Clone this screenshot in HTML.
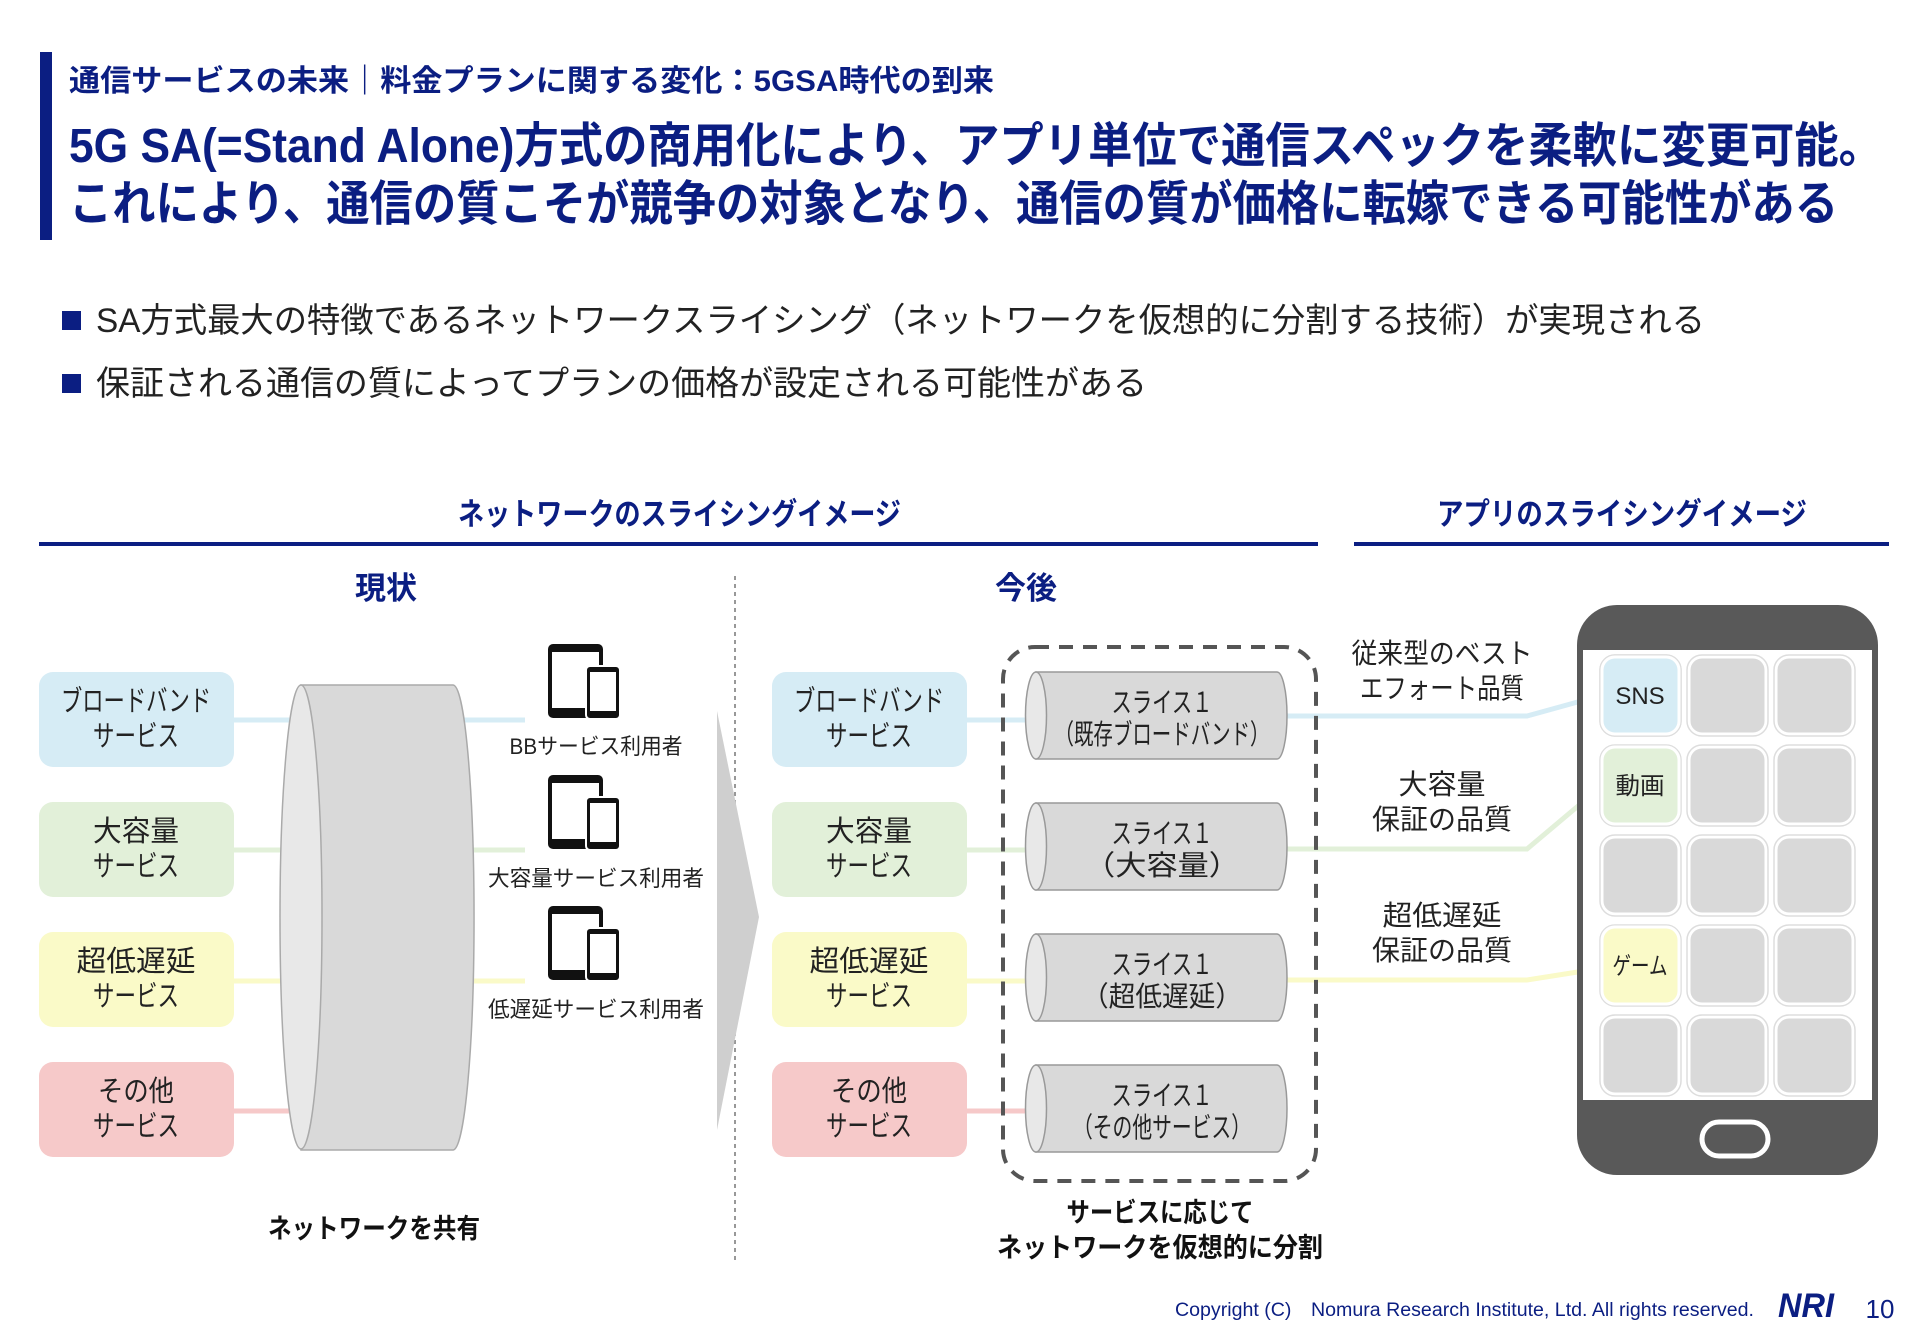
<!DOCTYPE html>
<html><head><meta charset="utf-8"><style>
html,body{margin:0;padding:0;background:#fff;}
svg{display:block;}
text{font-family:"Liberation Sans","Noto Sans CJK JP",sans-serif;}
.b{font-weight:bold;}
</style></head><body>
<svg width="1920" height="1329" viewBox="0 0 1920 1329" xmlns="http://www.w3.org/2000/svg">
<rect x="40" y="52" width="12" height="188" fill="#0b1e82"/>
<text x="69" y="91" class="b" font-size="30" fill="#0b1e82" textLength="925" lengthAdjust="spacingAndGlyphs">通信サービスの未来｜料金プランに関する変化：5GSA時代の到来</text>
<text x="69" y="162" class="b" font-size="48" fill="#0b1e82" textLength="1814" lengthAdjust="spacingAndGlyphs">5G SA(=Stand Alone)方式の商用化により、アプリ単位で通信スペックを柔軟に変更可能。</text>
<text x="69" y="220" class="b" font-size="48" fill="#0b1e82" textLength="1769" lengthAdjust="spacingAndGlyphs">これにより、通信の質こそが競争の対象となり、通信の質が価格に転嫁できる可能性がある</text>
<rect x="62" y="311" width="19" height="19" fill="#0b1e82"/>
<text x="96" y="332" font-size="34" fill="#222" textLength="1609" lengthAdjust="spacingAndGlyphs">SA方式最大の特徴であるネットワークスライシング（ネットワークを仮想的に分割する技術）が実現される</text>
<rect x="62" y="374" width="19" height="19" fill="#0b1e82"/>
<text x="96" y="395" font-size="34" fill="#222" textLength="1051" lengthAdjust="spacingAndGlyphs">保証される通信の質によってプランの価格が設定される可能性がある</text>
<text x="458" y="525" class="b" font-size="31" fill="#0b1e82" textLength="443" lengthAdjust="spacingAndGlyphs">ネットワークのスライシングイメージ</text>
<rect x="39" y="542" width="1279" height="4" fill="#0b1e82"/>
<text x="1437" y="525" class="b" font-size="31" fill="#0b1e82" textLength="370" lengthAdjust="spacingAndGlyphs">アプリのスライシングイメージ</text>
<rect x="1354" y="542" width="535" height="4" fill="#0b1e82"/>
<text x="386" y="599" class="b" font-size="31" fill="#0b1e82" text-anchor="middle">現状</text>
<text x="1026" y="599" class="b" font-size="31" fill="#0b1e82" text-anchor="middle">今後</text>
<line x1="735" y1="576" x2="735" y2="1262" stroke="#777" stroke-width="1.5" stroke-dasharray="4,4"/>

<g stroke-width="5">
<line x1="234" y1="720" x2="300" y2="720" stroke="#d6ecf5"/>
<line x1="234" y1="850" x2="300" y2="850" stroke="#e2f0d9"/>
<line x1="234" y1="981" x2="300" y2="981" stroke="#fafac8"/>
<line x1="234" y1="1111" x2="300" y2="1111" stroke="#f6c9c9"/>
<line x1="460" y1="720" x2="525" y2="720" stroke="#d6ecf5"/>
<line x1="460" y1="850" x2="525" y2="850" stroke="#e2f0d9"/>
<line x1="460" y1="981" x2="525" y2="981" stroke="#fafac8"/>
</g>
<g font-size="29" fill="#222" text-anchor="middle" lengthAdjust="spacingAndGlyphs">
<rect x="39" y="672" width="195" height="95" rx="14" fill="#d6ecf5"/>
<text x="136" y="711" textLength="150" lengthAdjust="spacingAndGlyphs">ブロードバンド</text><text x="136" y="746" textLength="86" lengthAdjust="spacingAndGlyphs">サービス</text>
<rect x="39" y="802" width="195" height="95" rx="14" fill="#e2f0d9"/>
<text x="136" y="841" textLength="86" lengthAdjust="spacingAndGlyphs">大容量</text><text x="136" y="876" textLength="86" lengthAdjust="spacingAndGlyphs">サービス</text>
<rect x="39" y="932" width="195" height="95" rx="14" fill="#fafac8"/>
<text x="136" y="971" textLength="119" lengthAdjust="spacingAndGlyphs">超低遅延</text><text x="136" y="1006" textLength="86" lengthAdjust="spacingAndGlyphs">サービス</text>
<rect x="39" y="1062" width="195" height="95" rx="14" fill="#f6c9c9"/>
<text x="136" y="1101" textLength="76" lengthAdjust="spacingAndGlyphs">その他</text><text x="136" y="1136" textLength="86" lengthAdjust="spacingAndGlyphs">サービス</text>
</g>
<path d="M301 685 L453 685 A21 232 0 0 1 453 1150 L301 1150 Z" fill="#d9d9d9" stroke="#aaa" stroke-width="1.5"/>
<ellipse cx="301" cy="917" rx="21" ry="232" fill="#e8e8e8" stroke="#aaa" stroke-width="1.5"/>
<g id="dev">
<rect x="548" y="644" width="55" height="74" rx="5" fill="#111"/>
<rect x="552" y="652" width="47" height="56" fill="#fff"/>
<rect x="586" y="666" width="34" height="53" rx="4" fill="#111" stroke="#fff" stroke-width="2"/>
<rect x="590" y="672" width="26" height="39" fill="#fff"/>
</g>
<use href="#dev" y="131"/>
<use href="#dev" y="262"/>
<g font-size="22" fill="#222" text-anchor="middle">
<text x="596" y="754" textLength="173" lengthAdjust="spacingAndGlyphs">BBサービス利用者</text>
<text x="596" y="886" textLength="216" lengthAdjust="spacingAndGlyphs">大容量サービス利用者</text>
<text x="596" y="1017" textLength="216" lengthAdjust="spacingAndGlyphs">低遅延サービス利用者</text>
</g>
<text x="374" y="1238" class="b" font-size="27" fill="#111" text-anchor="middle" textLength="212" lengthAdjust="spacingAndGlyphs">ネットワークを共有</text>
<polygon points="717,711 759,917 717,1130" fill="#cfcfcf"/>

<g stroke-width="5" fill="none">
<polyline points="967,720 1030,720" stroke="#d6ecf5"/>
<polyline points="967,850 1030,850" stroke="#e2f0d9"/>
<polyline points="967,981 1030,981" stroke="#fafac8"/>
<polyline points="967,1111 1030,1111" stroke="#f6c9c9"/>
<polyline points="1287,716 1527,716 1603,695" stroke="#d6ecf5"/>
<polyline points="1287,849 1527,849 1603,785" stroke="#e2f0d9"/>
<polyline points="1287,980 1527,980 1603,968" stroke="#fafac8"/>
</g>
<g font-size="29" fill="#222" text-anchor="middle">
<rect x="772" y="672" width="195" height="95" rx="14" fill="#d6ecf5"/>
<text x="869" y="711" textLength="150" lengthAdjust="spacingAndGlyphs">ブロードバンド</text><text x="869" y="746" textLength="86" lengthAdjust="spacingAndGlyphs">サービス</text>
<rect x="772" y="802" width="195" height="95" rx="14" fill="#e2f0d9"/>
<text x="869" y="841" textLength="86" lengthAdjust="spacingAndGlyphs">大容量</text><text x="869" y="876" textLength="86" lengthAdjust="spacingAndGlyphs">サービス</text>
<rect x="772" y="932" width="195" height="95" rx="14" fill="#fafac8"/>
<text x="869" y="971" textLength="119" lengthAdjust="spacingAndGlyphs">超低遅延</text><text x="869" y="1006" textLength="86" lengthAdjust="spacingAndGlyphs">サービス</text>
<rect x="772" y="1062" width="195" height="95" rx="14" fill="#f6c9c9"/>
<text x="869" y="1101" textLength="76" lengthAdjust="spacingAndGlyphs">その他</text><text x="869" y="1136" textLength="86" lengthAdjust="spacingAndGlyphs">サービス</text>
</g>
<rect x="1003" y="647" width="313" height="534" rx="32" fill="none" stroke="#555" stroke-width="4" stroke-dasharray="14,10"/>
<g id="sl">
<path d="M1036 672 L1277 672 A10 43.5 0 0 1 1277 759 L1036 759 Z" fill="#d9d9d9" stroke="#999" stroke-width="1.5"/>
<ellipse cx="1036" cy="715.5" rx="10.5" ry="43.5" fill="#e8e8e8" stroke="#999" stroke-width="1.5"/>
</g>
<use href="#sl" y="131"/><use href="#sl" y="262"/><use href="#sl" y="393"/>
<g font-size="28" fill="#222" text-anchor="middle">
<text x="1162" y="712" textLength="101" lengthAdjust="spacingAndGlyphs">スライス１</text><text x="1162" y="744" textLength="215" lengthAdjust="spacingAndGlyphs">（既存ブロードバンド）</text>
<text x="1162" y="843" textLength="101" lengthAdjust="spacingAndGlyphs">スライス１</text><text x="1162" y="875" textLength="156" lengthAdjust="spacingAndGlyphs">（大容量）</text>
<text x="1162" y="974" textLength="101" lengthAdjust="spacingAndGlyphs">スライス１</text><text x="1162" y="1006" textLength="160" lengthAdjust="spacingAndGlyphs">（超低遅延）</text>
<text x="1162" y="1105" textLength="101" lengthAdjust="spacingAndGlyphs">スライス１</text><text x="1162" y="1137" textLength="178" lengthAdjust="spacingAndGlyphs">（その他サービス）</text>
</g>
<g class="b" font-size="27" fill="#111" text-anchor="middle">
<text x="1160" y="1222" textLength="187" lengthAdjust="spacingAndGlyphs">サービスに応じて</text>
<text x="1160" y="1257" textLength="326" lengthAdjust="spacingAndGlyphs">ネットワークを仮想的に分割</text>
</g>
<g font-size="28" fill="#222" text-anchor="middle">
<text x="1442" y="663" textLength="181" lengthAdjust="spacingAndGlyphs">従来型のベスト</text><text x="1442" y="698" textLength="164" lengthAdjust="spacingAndGlyphs">エフォート品質</text>
<text x="1442" y="794" textLength="87" lengthAdjust="spacingAndGlyphs">大容量</text><text x="1442" y="829" textLength="140" lengthAdjust="spacingAndGlyphs">保証の品質</text>
<text x="1442" y="925" textLength="119" lengthAdjust="spacingAndGlyphs">超低遅延</text><text x="1442" y="960" textLength="140" lengthAdjust="spacingAndGlyphs">保証の品質</text>
</g>
<rect x="1577" y="605" width="301" height="570" rx="40" fill="#595959"/>
<rect x="1583" y="650" width="289" height="450" fill="#fff"/>
<rect x="1702" y="1122" width="66" height="34" rx="17" fill="none" stroke="#fff" stroke-width="5"/>
<g id="ic">
<rect x="1602" y="657" width="77" height="77" rx="13" fill="#d9d9d9" stroke="#fff" stroke-width="3"/>
<rect x="1600" y="655" width="81" height="81" rx="15" fill="none" stroke="#ddd" stroke-width="1.5"/>
</g>
<g id="row"><use href="#ic"/><use href="#ic" x="87"/><use href="#ic" x="174"/></g>
<use href="#row" y="90"/><use href="#row" y="180"/><use href="#row" y="270"/><use href="#row" y="360"/>
<rect x="1602" y="657" width="77" height="77" rx="13" fill="#d6ecf5" stroke="#fff" stroke-width="3"/>
<rect x="1602" y="747" width="77" height="77" rx="13" fill="#e2f0d9" stroke="#fff" stroke-width="3"/>
<rect x="1602" y="927" width="77" height="77" rx="13" fill="#fafac8" stroke="#fff" stroke-width="3"/>
<g font-size="24" fill="#222" text-anchor="middle">
<text x="1640" y="704">SNS</text>
<text x="1640" y="794" textLength="49" lengthAdjust="spacingAndGlyphs">動画</text>
<text x="1640" y="974" textLength="55" lengthAdjust="spacingAndGlyphs">ゲーム</text>
</g>
<text x="1175" y="1316" font-size="19" fill="#0b1e82" textLength="579" lengthAdjust="spacingAndGlyphs">Copyright (C)　Nomura Research Institute, Ltd. All rights reserved.</text>
<text x="1778" y="1317" class="b" font-size="34" fill="#0b1e82" font-style="italic" textLength="56" lengthAdjust="spacingAndGlyphs">NRI</text>
<text x="1880" y="1318" font-size="26" fill="#0b1e82" text-anchor="middle">10</text>
</svg>
</body></html>
